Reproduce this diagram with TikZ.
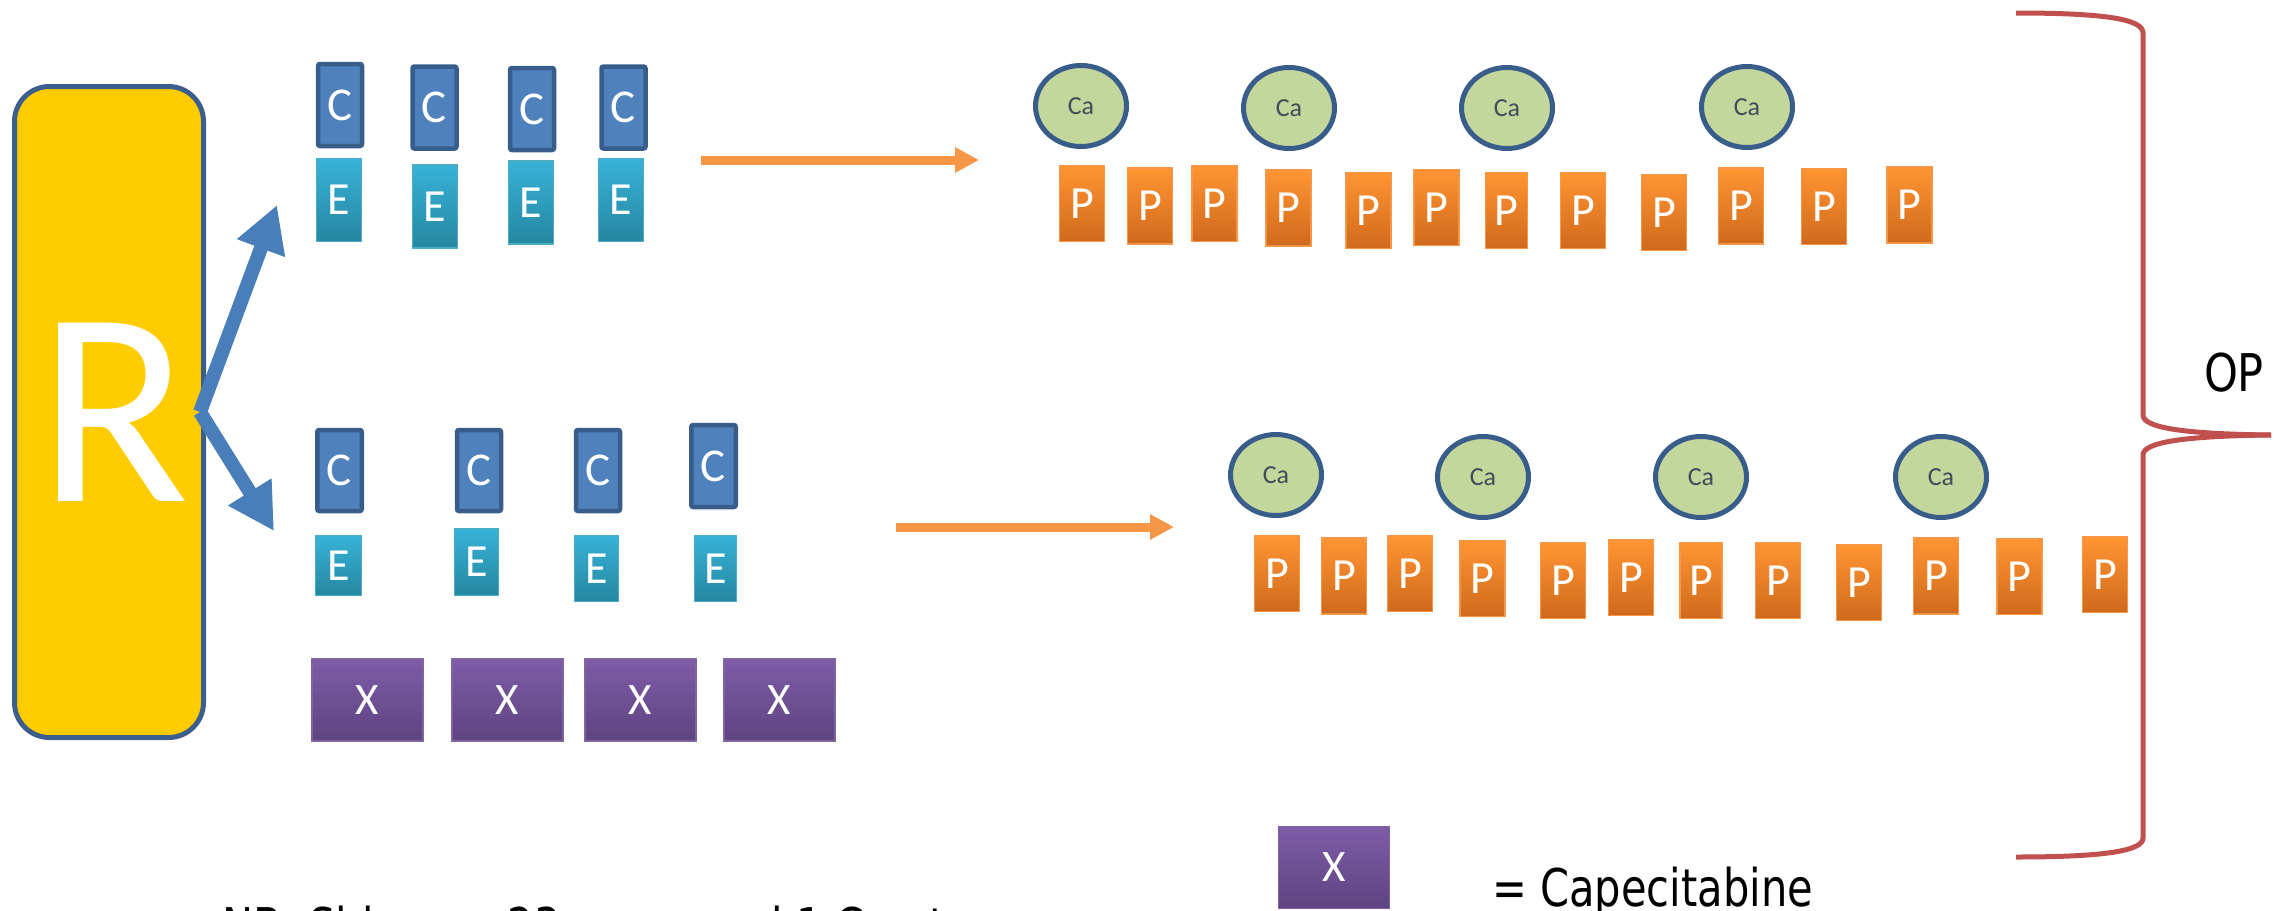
\documentclass[tikz,border=0pt]{standalone}
\usepackage{fontspec}
\setmainfont{Carlito}
\newfontfamily\vfont{DejaVu Sans}
\usetikzlibrary{arrows.meta,shapes.geometric}
\definecolor{cfill}{HTML}{4F81BD}
\definecolor{cborder}{HTML}{385D8A}
\definecolor{etop}{HTML}{38B2D8}
\definecolor{ebot}{HTML}{2587A0}
\definecolor{eline}{HTML}{4BACC6}
\definecolor{ptop}{HTML}{FF9533}
\definecolor{pbot}{HTML}{D0691C}
\definecolor{pline}{HTML}{F79646}
\definecolor{xtop}{HTML}{7E5CA7}
\definecolor{xbot}{HTML}{5E4381}
\definecolor{xline}{HTML}{8064A2}
\definecolor{cagreen}{HTML}{C3D69B}
\definecolor{catext}{HTML}{404D5B}
\definecolor{ryellow}{HTML}{FFCC00}
\definecolor{rborder}{HTML}{3B5E8C}
\definecolor{oarrow}{HTML}{F79646}
\definecolor{barrow}{HTML}{4A7EBB}
\definecolor{bracered}{HTML}{C0504D}
\tikzset{
  cbox/.style={draw=cborder, fill=cfill, line width=4.5, rounded corners=2,
    text=white, inner sep=0, minimum width=44, minimum height=82,
    font=\fontsize{47}{47}\selectfont},
  ebox/.style={draw=eline, top color=etop, bottom color=ebot, line width=1.5,
    text=white, inner sep=0, minimum width=45, minimum height=83,
    font=\fontsize{46}{46}\selectfont},
  pbox/.style={draw=pline, top color=ptop, bottom color=pbot, line width=1.5,
    text=white, inner sep=0, minimum width=45, minimum height=76,
    font=\fontsize{46}{46}\selectfont},
  xbox/.style={draw=xline, top color=xtop, bottom color=xbot, line width=1.5,
    text=white, inner sep=0, minimum width=111, minimum height=82,
    font=\fontsize{45}{45}\selectfont},
  caell/.style={ellipse, draw=cborder, fill=cagreen, line width=5, inner sep=0,
    minimum width=91, minimum height=81, text=catext,
    font=\fontsize{26}{26}\selectfont},
  rbox/.style={draw=rborder, fill=ryellow, line width=5, rounded corners=35,
    inner sep=0, minimum width=189, minimum height=651, text=white,
    font=\fontsize{278}{278}\selectfont},
  bluearrow/.style={draw=barrow, line width=14,
    -{Triangle[length=46pt,width=48pt]}},
  orangearrow/.style={draw=oarrow, line width=9,
    -{Triangle[length=24pt,width=24pt]}},
  bracestyle/.style={draw=bracered, line width=5, line join=round},
  vtext/.style={inner sep=0, text=black, font=\vfont\fontsize{52}{52}\selectfont}
}
\begin{document}
\begin{tikzpicture}[x=1pt,y=-1pt]
\useasboundingbox (0,0) rectangle (2285,910);
\clip (0,0) rectangle (2285,910);
% R box
\node[rbox] (R) at (109,412) {\hspace{10pt}\raisebox{-14pt}{R}};
% top C/E
\node[cbox] (c1) at (340,105) {C};
\node[cbox] (c2) at (434.5,107.5) {C};
\node[cbox] (c3) at (532,109) {C};
\node[cbox] (c4) at (623.5,107.5) {C};
\node[ebox] (e1) at (339,200) {E};
\node[ebox] (e2) at (435,206.5) {E};
\node[ebox] (e3) at (531,202.5) {E};
\node[ebox] (e4) at (621,200) {E};
% bottom C/E
\node[cbox, minimum width=44.5, minimum height=81] (c5) at (339.5,470.5) {C};
\node[cbox, minimum width=44, minimum height=81] (c6) at (479,470.5) {C};
\node[cbox, minimum width=44, minimum height=81] (c7) at (598,470.5) {C};
\node[cbox, minimum width=44.5, minimum height=82] (c8) at (713.5,466) {C};
\node[ebox, minimum width=46, minimum height=60] (e5) at (338.5,565.5) {E};
\node[ebox, minimum width=44, minimum height=67] (e6) at (476.5,562) {E};
\node[ebox, minimum width=44, minimum height=66] (e7) at (596.5,568.5) {E};
\node[ebox, minimum width=42, minimum height=66] (e8) at (715.5,568.5) {E};
% X boxes
\node[xbox] (x1) at (367.5,700) {X};
\node[xbox] (x2) at (507.5,700) {X};
\node[xbox] (x3) at (640.5,700) {X};
\node[xbox] (x4) at (779.5,700) {X};
% blue arrows
\coordinate (upT) at (277,205);
\coordinate (dnT) at (274,531);
\draw[bluearrow] ([xshift=-6pt]R.east) -- (upT);
\draw[bluearrow] ([xshift=-6pt]R.east) -- (dnT);
% orange arrows
\coordinate (oa1s) at (701,160);
\coordinate (oa1e) at (979,160);
\coordinate (oa2s) at (896,527);
\coordinate (oa2e) at (1174,527);
\draw[orangearrow] (oa1s) -- (oa1e);
\draw[orangearrow] (oa2s) -- (oa2e);
% top Ca
\node[caell] (ca1) at (1081,106) {Ca};
\node[caell] (ca2) at (1289,108) {Ca};
\node[caell] (ca3) at (1507,108) {Ca};
\node[caell] (ca4) at (1747,107) {Ca};
% top P
\node[pbox] (p1) at (1082,203.5) {P};
\node[pbox] (p2) at (1150,206) {P};
\node[pbox] (p3) at (1214.5,203.5) {P};
\node[pbox] (p4) at (1288.5,208) {P};
\node[pbox] (p5) at (1368.5,210.5) {P};
\node[pbox] (p6) at (1436.5,207.5) {P};
\node[pbox, minimum width=42] (p7) at (1506.5,210.5) {P};
\node[pbox] (p8) at (1583,210.5) {P};
\node[pbox] (p9) at (1664,212.5) {P};
\node[pbox] (p10) at (1741,206) {P};
\node[pbox] (p11) at (1824,206.5) {P};
\node[pbox] (p12) at (1909.5,205) {P};
% bottom Ca
\node[caell] (ca5) at (1276,475) {Ca};
\node[caell] (ca6) at (1483,477) {Ca};
\node[caell] (ca7) at (1701,477) {Ca};
\node[caell] (ca8) at (1941,477) {Ca};
% bottom P
\node[pbox] (q1) at (1277,573.5) {P};
\node[pbox] (q2) at (1344,576) {P};
\node[pbox] (q3) at (1410,573.5) {P};
\node[pbox] (q4) at (1482.5,578.5) {P};
\node[pbox] (q5) at (1563,580.5) {P};
\node[pbox] (q6) at (1631,577.5) {P};
\node[pbox, minimum width=42] (q7) at (1701,580.5) {P};
\node[pbox] (q8) at (1778,580.5) {P};
\node[pbox] (q9) at (1859,582.5) {P};
\node[pbox] (q10) at (1936,576) {P};
\node[pbox] (q11) at (2019.5,576.5) {P};
\node[pbox] (q12) at (2105,574.5) {P};
% brace
\draw[bracestyle] (2016,13) .. controls (2110,13) and (2143,20) .. (2143,33)
  -- (2143,415) .. controls (2143,428) and (2185,434) .. (2271,435);
\draw[bracestyle] (2271,435) .. controls (2185,436) and (2143,442) .. (2143,455)
  -- (2143,838) .. controls (2143,850) and (2110,857) .. (2016,857);
\node[vtext] (op) at (2234,373) {\scalebox{0.83}[1]{OP}};
% legend
\node[xbox] (xl) at (1334,867.5) {X};
\node[vtext, anchor=base west] (cap) at (1492,906) {\scalebox{0.8}[1]{= Capecitabine}};
% footnote (cut off at the bottom edge, as in the reference)
\node[vtext, anchor=base west] (nb) at (222,945) {\scalebox{0.8}[1]{NB: Side arm 23 cases and 1 Cap t}};
\end{tikzpicture}
\end{document}
